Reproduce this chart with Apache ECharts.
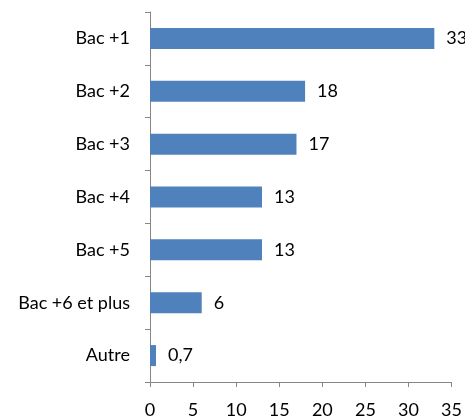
<!DOCTYPE html>
<html>
<head>
<meta charset="utf-8">
<script src="https://cdn.jsdelivr.net/npm/echarts@6/dist/echarts.min.js"></script>
<style>
  html, body { margin: 0; padding: 0; background: #fff; }
  #chart { width: 465px; height: 419px; }
</style>
</head>
<body>
<div id="chart"></div>
<script>
// niveaux de diplome, du haut vers le bas
const categories = ['Bac +1', 'Bac +2', 'Bac +3', 'Bac +4', 'Bac +5', 'Bac +6 et plus', 'Autre']
const values = [33, 18, 17, 13, 13, 6, 0.7]
const xTicks = [0, 5, 10, 15, 20, 25, 30, 35]

const font = 'Lato, "Open Sans", sans-serif'
const axisColor = '#868686'

const myChart = echarts.init(document.getElementById('chart'), null, { renderer: 'canvas' })

myChart.setOption({
  animation: false,
  textStyle: { fontFamily: font },
  grid: { left: 150, right: 10, top: 12, bottom: 34, containLabel: false },
  xAxis: {
    type: 'value',
    min: xTicks[0],
    max: xTicks[xTicks.length - 1],
    interval: 5,
    splitLine: { show: false },
    axisLine: { show: true, lineStyle: { color: axisColor } },
    axisTick: { show: true, length: 5, lineStyle: { color: axisColor } },
    axisLabel: { color: '#000', fontSize: 18, margin: 19, fontFamily: font }
  },
  yAxis: {
    type: 'category',
    data: categories,
    inverse: true,
    axisLine: { show: true, lineStyle: { color: axisColor } },
    axisTick: { show: true, length: 5, lineStyle: { color: axisColor } },
    axisLabel: { color: '#000', fontSize: 18, margin: 20, fontFamily: font }
  },
  series: [{
    type: 'bar',
    data: values,
    barWidth: 21,
    itemStyle: { color: '#4F81BD' },
    label: {
      show: true,
      position: 'right',
      distance: 12,
      color: '#000',
      fontSize: 18,
      fontFamily: font,
      formatter: p => String(p.value).replace('.', ',')
    }
  }]
})

window.addEventListener('resize', () => {
  myChart && myChart.resize()
})
</script>
</body>
</html>
